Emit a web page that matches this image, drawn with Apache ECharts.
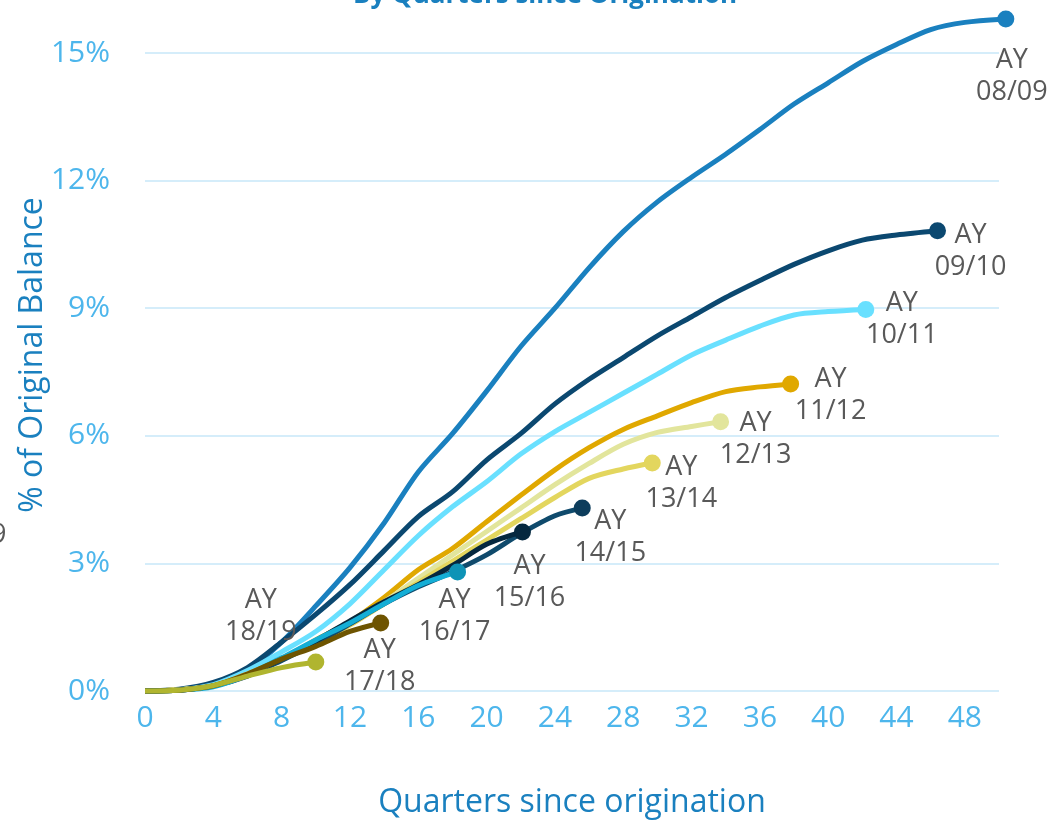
<!DOCTYPE html>
<html>
<head>
<meta charset="utf-8">
<title>Cumulative losses by quarters since origination</title>
<script src="https://cdn.jsdelivr.net/npm/echarts@6/dist/echarts.min.js"></script>
<style>
  html, body { margin: 0; padding: 0; background: #ffffff; }
  #chart { width: 1053px; height: 822px; }
</style>
</head>
<body>
<div id="chart"></div>
<script>
// Cumulative loss (% of original balance) by accident-year vintage,
// sampled every two quarters since origination, plus each vintage's latest point.
const quarters = [0, 2, 4, 6, 8, 10, 12, 14, 16, 18, 20, 22, 24, 26, 28, 30, 32, 34, 36, 38, 40, 42, 44, 46, 48];
const vintages = ['08/09', '09/10', '10/11', '11/12', '12/13', '13/14', '14/15', '15/16', '16/17', '17/18', '18/19'];

const ay0809 = [0, 0.03, 0.15, 0.5, 1.15, 2.0, 2.9, 3.95, 5.15, 6.05, 7.05, 8.1, 9.0, 9.95, 10.8, 11.5, 12.08, 12.62, 13.2, 13.8, 14.3, 14.8, 15.2, 15.55, 15.72];
const ay0910 = [0, 0.04, 0.2, 0.55, 1.15, 1.8, 2.5, 3.3, 4.1, 4.68, 5.43, 6.05, 6.75, 7.33, 7.84, 8.35, 8.8, 9.25, 9.65, 10.03, 10.35, 10.6, 10.72];
const ay1011 = [0, 0.03, 0.15, 0.48, 0.92, 1.4, 2.05, 2.85, 3.65, 4.33, 4.92, 5.57, 6.1, 6.55, 7.0, 7.45, 7.9, 8.25, 8.58, 8.84, 8.92];
const ay1112 = [0, 0.03, 0.12, 0.4, 0.75, 1.2, 1.63, 2.2, 2.85, 3.35, 3.98, 4.6, 5.2, 5.72, 6.15, 6.47, 6.78, 7.04, 7.15];
const ay1213 = [0, 0.03, 0.12, 0.4, 0.75, 1.15, 1.6, 2.1, 2.65, 3.2, 3.75, 4.3, 4.85, 5.35, 5.8, 6.08, 6.22];
const ay1314 = [0, 0.03, 0.12, 0.38, 0.73, 1.12, 1.55, 2.05, 2.55, 3.05, 3.55, 4.05, 4.55, 5.0, 5.22];
const ay1415 = [0, 0.02, 0.12, 0.35, 0.72, 1.12, 1.58, 2.05, 2.45, 2.8, 3.2, 3.7, 4.12];
const ay1516 = [0, 0.02, 0.12, 0.38, 0.76, 1.18, 1.65, 2.1, 2.5, 2.95, 3.45];
const ay1617 = [0, 0.02, 0.1, 0.38, 0.78, 1.2, 1.6, 2.05, 2.48];
const ay1718 = [0, 0.02, 0.12, 0.4, 0.75, 1.05, 1.4];
const ay1819 = [0, 0.02, 0.13, 0.35, 0.55];

// Latest observation of each vintage (quarter, %)
const lastQuarter = [50.4, 46.4, 42.2, 37.8, 33.7, 29.7, 25.6, 22.1, 18.3, 13.8, 10];
const lastValue   = [15.8, 10.82, 8.97, 7.22, 6.33, 5.36, 4.3, 3.74, 2.8, 1.6, 0.68];

const yTicks = [0, 3, 6, 9, 12, 15];

const vintageValues = [ay0809, ay0910, ay1011, ay1112, ay1213, ay1314, ay1415, ay1516, ay1617, ay1718, ay1819];

// Styling per vintage: line colour, end-dot colour, label offset from the dot
const styles = [
  { line: '#1a80bf', dot: '#1a80bf', offset: [6, 57] },
  { line: '#0b4870', dot: '#0b4870', offset: [33, 21] },
  { line: '#69e0ff', dot: '#69e0ff', offset: [36, 10] },
  { line: '#e0a800', dot: '#e0a800', offset: [40, 11] },
  { line: '#e2e59c', dot: '#e2e59c', offset: [35, 18] },
  { line: '#e3d65e', dot: '#e3d65e', offset: [29, 20] },
  { line: '#0f4a6c', dot: '#0d3d5c', offset: [28, 29] },
  { line: '#05283f', dot: '#05283f', offset: [7, 50] },
  { line: '#14aed6', dot: '#0e93b6', offset: [-3, 44] },
  { line: '#6e5400', dot: '#6e5400', offset: [-1, 43] },
  { line: '#b0b52f', dot: '#b0b52f', offset: [-55, -46] }
];

const FONT = '"Open Sans", "Noto Sans", sans-serif';

const series = vintages.map(function (name, i) {
  const vals = vintageValues[i];
  const pts = vals.map(function (v, k) { return [quarters[k], v]; });
  pts.push([lastQuarter[i], lastValue[i]]);
  const last = pts.length - 1;
  const st = styles[i];
  return {
    name: 'AY ' + name,
    type: 'line',
    smooth: 0.3,
    clip: false,
    animation: false,
    symbol: 'circle',
    symbolSize: function (val, params) { return params.dataIndex === last ? 17 : 0; },
    lineStyle: { color: st.line, width: 5 },
    itemStyle: { color: st.dot },
    emphasis: { disabled: true },
    data: pts.map(function (p, k) {
      if (k !== last) return { value: p };
      return {
        value: p,
        label: {
          show: true,
          position: 'inside',
          offset: st.offset,
          formatter: 'AY\n' + name,
          align: 'center',
          verticalAlign: 'middle',
          color: '#595959',
          fontFamily: FONT,
          fontSize: 27,
          lineHeight: 32
        }
      };
    })
  };
});

const chart = echarts.init(document.getElementById('chart'), null, { renderer: 'canvas' });

chart.setOption({
  backgroundColor: '#ffffff',
  animation: false,
  grid: { left: 145, right: 54, top: 53, bottom: 131, containLabel: false },
  xAxis: {
    type: 'value',
    min: 0,
    max: 50,
    interval: 4,
    axisLine: { show: false },
    axisTick: { show: false },
    splitLine: { show: false },
    axisLabel: {
      showMaxLabel: false,
      color: '#4db6ec',
      fontFamily: FONT,
      fontSize: 30,
      margin: 12
    }
  },
  yAxis: {
    type: 'value',
    min: yTicks[0],
    max: yTicks[yTicks.length - 1],
    interval: yTicks[1] - yTicks[0],
    axisLine: { show: false },
    axisTick: { show: false },
    splitLine: { show: true, lineStyle: { color: '#d5edfa', width: 2 } },
    axisLabel: {
      color: '#4db6ec',
      fontFamily: FONT,
      fontSize: 30,
      margin: 35,
      formatter: function (v) { return v + '%'; }
    }
  },
  graphic: [
    {
      type: 'text',
      x: 545, y: 9,
      style: {
        text: 'By Quarters since Origination',
        x: 0, y: 0,
        align: 'center', verticalAlign: 'bottom',
        fill: '#1a80bf',
        font: 'bold 26px ' + FONT
      }
    },
    {
      type: 'text',
      x: 33, y: 355,
      rotation: Math.PI / 2,
      style: {
        text: '% of Original Balance',
        x: 0, y: 0,
        align: 'center', verticalAlign: 'middle',
        fill: '#1a80bf',
        font: '32px ' + FONT
      }
    },
    {
      type: 'text',
      x: 572, y: 803,
      style: {
        text: 'Quarters since origination',
        x: 0, y: 0,
        align: 'center', verticalAlign: 'middle',
        fill: '#1a80bf',
        font: '32px ' + FONT
      }
    },
    {
      type: 'text',
      x: -9, y: 535,
      style: {
        text: '9',
        x: 0, y: 0,
        align: 'left', verticalAlign: 'middle',
        fill: '#595959',
        font: '27px ' + FONT
      }
    }
  ],
  series: series
});
</script>
</body>
</html>
